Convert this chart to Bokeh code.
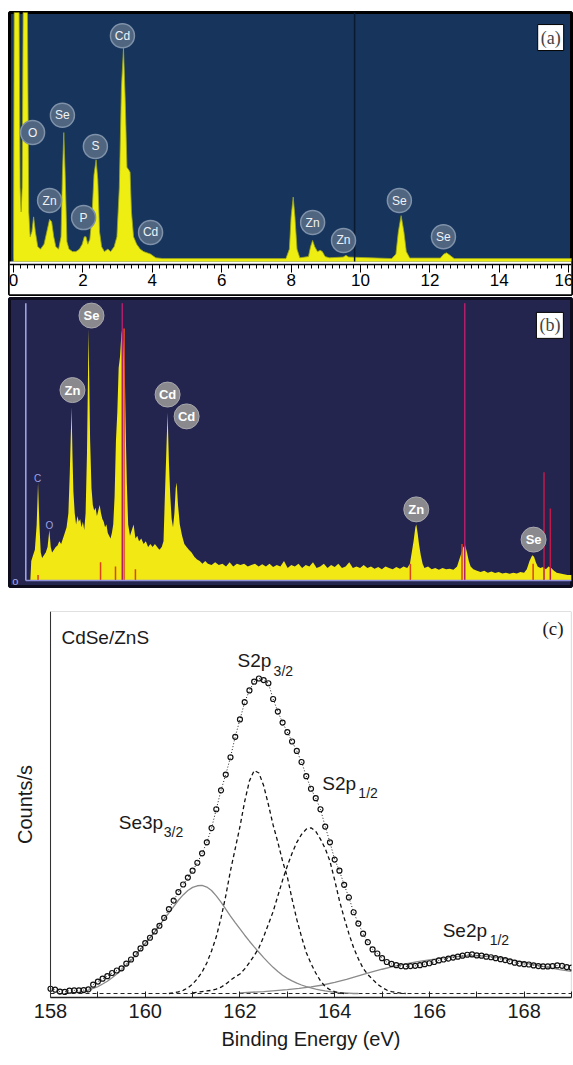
from bokeh.plotting import figure
from bokeh.layouts import column
from bokeh.models import Range1d, FixedTicker, SingleIntervalTicker, BoxAnnotation, Label, Title
from bokeh.embed import file_html
from bokeh.resources import INLINE
from bokeh.core.properties import value

# ---------------- data: panel (a) EDS spectrum ----------------
a_energy_kev = [0.00, 0.02, 0.16, 0.19, 0.22, 0.25, 0.28, 0.40, 0.44, 0.48, 0.53, 0.58, 0.63, 0.70, 0.78,
                0.88, 0.96, 1.04, 1.10, 1.16, 1.22, 1.30, 1.37, 1.41, 1.45, 1.49, 1.54, 1.60, 1.70, 1.80,
                1.90, 1.98, 2.04, 2.09, 2.14, 2.20, 2.26, 2.32, 2.38, 2.43, 2.48, 2.54, 2.62, 2.72, 2.80,
                2.90, 2.98, 3.05, 3.11, 3.17, 3.22, 3.27, 3.32, 3.36, 3.40, 3.46, 3.55, 3.65, 3.75, 3.85,
                3.95, 4.10, 4.30, 7.85, 7.95, 8.00, 8.06, 8.11, 8.17, 8.25, 8.50, 8.56, 8.62, 8.68, 8.76,
                8.84, 8.90, 8.98, 9.10, 9.50, 9.58, 9.66, 10.90, 11.02, 11.09, 11.17, 11.25, 11.32, 11.42,
                12.30, 12.40, 12.48, 12.58, 12.70, 16.11]
a_counts = [0.012, 1.05, 1.05, 0.30, 0.20, 0.30, 1.05, 1.05, 0.20, 0.10, 0.12, 0.18, 0.12, 0.06, 0.05,
            0.07, 0.12, 0.17, 0.16, 0.10, 0.06, 0.05, 0.10, 0.35, 0.52, 0.35, 0.08, 0.05, 0.04, 0.04,
            0.05, 0.07, 0.10, 0.10, 0.07, 0.09, 0.18, 0.35, 0.41, 0.33, 0.12, 0.06, 0.04, 0.05, 0.04,
            0.06, 0.10, 0.30, 0.70, 0.86, 0.65, 0.38, 0.37, 0.36, 0.20, 0.10, 0.07, 0.05, 0.04, 0.035,
            0.03, 0.015, 0.012, 0.012, 0.05, 0.18, 0.26, 0.18, 0.05, 0.015, 0.02, 0.06, 0.085, 0.06, 0.04,
            0.045, 0.04, 0.02, 0.015, 0.018, 0.025, 0.018, 0.012, 0.03, 0.12, 0.185, 0.12, 0.04, 0.014,
            0.014, 0.03, 0.035, 0.025, 0.012, 0.012]
a_tags = ["O", "Se", "Zn", "P", "S", "Cd", "Cd", "Zn", "Zn", "Se", "Se"]
a_tag_kev = [0.55, 1.41, 1.04, 2.02, 2.36, 3.14, 3.95, 8.62, 9.51, 11.12, 12.39]
a_tag_level = [0.52, 0.59, 0.246, 0.177, 0.464, 0.91, 0.117, 0.157, 0.085, 0.246, 0.10]
a_cursor_kev = 9.83

# ---------------- data: panel (b) EDS spectrum ----------------
b_energy_kev = [0.10, 0.12, 0.16, 0.20, 0.24, 0.27, 0.30, 0.33, 0.36, 0.40, 0.44, 0.48, 0.52, 0.55, 0.58,
                0.62, 0.66, 0.70, 0.74, 0.78, 0.82, 0.86, 0.90, 0.94, 0.97, 0.99, 1.01, 1.03, 1.05, 1.08,
                1.11, 1.14, 1.17, 1.20, 1.23, 1.26, 1.29, 1.32, 1.35, 1.37, 1.385, 1.40, 1.42, 1.45, 1.48,
                1.51, 1.54, 1.57, 1.60, 1.63, 1.66, 1.69, 1.72, 1.75, 1.78, 1.81, 1.84, 1.87, 1.90, 1.93,
                1.96, 1.99, 2.02, 2.05, 2.08, 2.11, 2.13, 2.15, 2.17, 2.19, 2.21, 2.23, 2.26, 2.30, 2.34,
                2.38, 2.42, 2.46, 2.50, 2.55, 2.60, 2.65, 2.70, 2.75, 2.80, 2.85, 2.90, 2.95, 3.00, 3.04,
                3.07, 3.10, 3.13, 3.16, 3.19, 3.22, 3.25, 3.28, 3.31, 3.33, 3.36, 3.40, 3.45, 3.50, 3.55,
                3.60, 3.66, 3.72, 3.78, 3.84, 3.90, 3.96, 4.02, 4.10, 4.18, 4.26, 4.34, 4.42, 4.50, 4.58,
                4.66, 4.74, 4.82, 4.90, 4.98, 5.06, 5.14, 5.22, 5.30, 5.38, 5.46, 5.54, 5.62, 5.70, 5.78,
                5.86, 5.94, 6.02, 6.10, 6.18, 6.26, 6.34, 6.42, 6.50, 6.58, 6.66, 6.74, 6.82, 6.90, 6.98,
                7.06, 7.14, 7.22, 7.30, 7.38, 7.46, 7.54, 7.62, 7.70, 7.78, 7.86, 7.94, 8.02, 8.10, 8.18,
                8.26, 8.34, 8.42, 8.48, 8.52, 8.56, 8.60, 8.62, 8.65, 8.68, 8.72, 8.76, 8.80, 8.88, 8.96,
                9.04, 9.12, 9.20, 9.28, 9.36, 9.44, 9.52, 9.58, 9.62, 9.66, 9.70, 9.74, 9.78, 9.82, 9.88,
                9.96, 10.04, 10.12, 10.20, 10.28, 10.36, 10.44, 10.52, 10.60, 10.68, 10.76, 10.84, 10.92, 11.00, 11.06,
                11.12, 11.18, 11.22, 11.26, 11.30, 11.36, 11.42, 11.48, 11.54, 11.60, 11.66, 11.72, 11.80, 11.88, 11.96,
                12.05]
b_counts = [0.0, 0.07, 0.09, 0.11, 0.20, 0.35, 0.20, 0.10, 0.08, 0.09, 0.10, 0.12, 0.18, 0.12, 0.10,
            0.11, 0.12, 0.125, 0.14, 0.13, 0.15, 0.17, 0.19, 0.24, 0.38, 0.50, 0.62, 0.45, 0.32, 0.24,
            0.20, 0.23, 0.21, 0.22, 0.19, 0.21, 0.18, 0.24, 0.45, 0.70, 0.90, 0.72, 0.50, 0.33, 0.27,
            0.25, 0.26, 0.23, 0.25, 0.27, 0.24, 0.22, 0.21, 0.19, 0.20, 0.17, 0.16, 0.15, 0.17, 0.20,
            0.30, 0.50, 0.60, 0.76, 0.80, 0.88, 0.90, 0.85, 0.78, 0.70, 0.50, 0.35, 0.20, 0.16, 0.18,
            0.20, 0.15, 0.16, 0.14, 0.15, 0.13, 0.14, 0.12, 0.13, 0.12, 0.13, 0.12, 0.11, 0.12, 0.14,
            0.30, 0.45, 0.60, 0.42, 0.30, 0.22, 0.19, 0.24, 0.33, 0.35, 0.27, 0.20, 0.16, 0.13, 0.12,
            0.11, 0.10, 0.085, 0.075, 0.07, 0.06, 0.07, 0.06, 0.055, 0.065, 0.055, 0.06, 0.05, 0.065, 0.05,
            0.06, 0.055, 0.06, 0.05, 0.055, 0.06, 0.05, 0.058, 0.05, 0.06, 0.048, 0.055, 0.05, 0.07, 0.045,
            0.055, 0.05, 0.06, 0.045, 0.055, 0.05, 0.065, 0.045, 0.05, 0.06, 0.045, 0.055, 0.048, 0.06, 0.045,
            0.05, 0.065, 0.045, 0.05, 0.045, 0.055, 0.045, 0.05, 0.042, 0.048, 0.04, 0.05, 0.045, 0.04, 0.048,
            0.042, 0.05, 0.045, 0.06, 0.10, 0.14, 0.19, 0.20, 0.17, 0.13, 0.09, 0.06, 0.045, 0.05, 0.04,
            0.045, 0.038, 0.045, 0.04, 0.042, 0.038, 0.05, 0.08, 0.10, 0.12, 0.125, 0.10, 0.07, 0.05, 0.04,
            0.035, 0.03, 0.035, 0.028, 0.032, 0.027, 0.03, 0.025, 0.028, 0.024, 0.028, 0.025, 0.03, 0.028, 0.04,
            0.07, 0.09, 0.085, 0.065, 0.05, 0.045, 0.048, 0.04, 0.05, 0.045, 0.035, 0.028, 0.025, 0.022, 0.02,
            0.02]
b_marker_kev = [2.13, 9.69, 11.44, 11.58, 2.17, 0.27, 1.65, 1.98, 2.42, 8.49, 9.63, 11.20]
b_marker_level = [0.99, 0.99, 0.387, 0.257, 0.90, 0.02, 0.065, 0.05, 0.04, 0.06, 0.13, 0.06]
b_marker_color = ["#b0206a", "#b0206a", "#c01a4a", "#c01a4a", "#e0501a", "#e0401a", "#e0401a", "#e0401a",
                  "#e0401a", "#e0401a", "#e0401a", "#e0401a"]
b_tags = ["Se", "Zn", "Cd", "Cd", "Zn", "Se"]
b_tag_kev = [1.45, 1.03, 3.13, 3.55, 8.62, 11.21]
b_tag_level = [0.946, 0.68, 0.664, 0.586, 0.254, 0.146]
b_small_tags = ["C", "O"]
b_small_kev = [0.26, 0.52]
b_small_level = [0.364, 0.196]

# ---------------- data: panel (c) XPS ----------------
c_energy_ev = [158.0, 158.1, 158.2, 158.3, 158.4, 158.5, 158.6, 158.7, 158.8, 158.9,
               159.0, 159.1, 159.2, 159.3, 159.4, 159.5, 159.6, 159.7, 159.8, 159.9,
               160.0, 160.1, 160.2, 160.3, 160.4, 160.5, 160.6, 160.7, 160.8, 160.9,
               161.0, 161.1, 161.2, 161.3, 161.4, 161.5, 161.6, 161.7, 161.8, 161.9,
               162.0, 162.1, 162.2, 162.3, 162.4, 162.5, 162.6, 162.7, 162.8, 162.9,
               163.0, 163.1, 163.2, 163.3, 163.4, 163.5, 163.6, 163.7, 163.8, 163.9,
               164.0, 164.1, 164.2, 164.3, 164.4, 164.5, 164.6, 164.7, 164.8, 164.9,
               165.0, 165.1, 165.2, 165.3, 165.4, 165.5, 165.6, 165.7, 165.8, 165.9,
               166.0, 166.1, 166.2, 166.3, 166.4, 166.5, 166.6, 166.7, 166.8, 166.9,
               167.0, 167.1, 167.2, 167.3, 167.4, 167.5, 167.6, 167.7, 167.8, 167.9,
               168.0, 168.1, 168.2, 168.3, 168.4, 168.5, 168.6, 168.7, 168.8, 168.9,
               169.0]
c_counts = [0.015, 0.012, 0.006, 0.005, 0.009, 0.010, 0.010, 0.011, 0.013, 0.028,
            0.038, 0.047, 0.055, 0.065, 0.073, 0.080, 0.095, 0.108, 0.125, 0.143,
            0.160, 0.177, 0.197, 0.215, 0.240, 0.268, 0.295, 0.322, 0.346, 0.368,
            0.390, 0.415, 0.445, 0.480, 0.525, 0.585, 0.645, 0.695, 0.750, 0.815,
            0.870, 0.925, 0.962, 0.990, 1.000, 0.995, 0.985, 0.935, 0.895, 0.860,
            0.830, 0.800, 0.770, 0.735, 0.690, 0.650, 0.620, 0.585, 0.530, 0.480,
            0.425, 0.390, 0.345, 0.305, 0.258, 0.222, 0.190, 0.163, 0.140, 0.127,
            0.112, 0.100, 0.094, 0.090, 0.087, 0.086, 0.087, 0.088, 0.090, 0.093,
            0.096, 0.100, 0.105, 0.108, 0.111, 0.114, 0.117, 0.120, 0.123, 0.124,
            0.121, 0.120, 0.117, 0.115, 0.112, 0.109, 0.106, 0.102, 0.098, 0.095,
            0.093, 0.092, 0.089, 0.087, 0.086, 0.086, 0.087, 0.089, 0.088, 0.084,
            0.082]

s32_energy_ev = [160.5, 160.6, 160.7, 160.8, 160.9, 161.0, 161.1, 161.2, 161.3, 161.4,
                 161.5, 161.6, 161.7, 161.8, 161.9, 162.0, 162.1, 162.2, 162.3, 162.4,
                 162.5, 162.6, 162.7, 162.8, 162.9, 163.0, 163.1, 163.2, 163.3, 163.4,
                 163.5, 163.6, 163.7, 163.8, 163.9, 164.0, 164.1, 164.2]
s32_counts = [0.0, 0.002, 0.005, 0.010, 0.018, 0.030, 0.047, 0.068, 0.097, 0.135,
              0.180, 0.240, 0.310, 0.390, 0.460, 0.530, 0.610, 0.675, 0.708, 0.700,
              0.660, 0.600, 0.535, 0.480, 0.420, 0.370, 0.300, 0.235, 0.180, 0.130,
              0.095, 0.065, 0.040, 0.022, 0.012, 0.006, 0.002, 0.0]

s12_energy_ev = [161.0, 161.1, 161.2, 161.3, 161.4, 161.5, 161.6, 161.7, 161.8, 161.9,
                 162.0, 162.1, 162.2, 162.3, 162.4, 162.5, 162.6, 162.7, 162.8, 162.9,
                 163.0, 163.1, 163.2, 163.3, 163.4, 163.5, 163.6, 163.7, 163.8, 163.9,
                 164.0, 164.1, 164.2, 164.3, 164.4, 164.5, 164.6, 164.7, 164.8, 164.9,
                 165.0, 165.1, 165.2, 165.3, 165.4, 165.5]
s12_counts = [0.002, 0.004, 0.006, 0.008, 0.010, 0.014, 0.020, 0.030, 0.042, 0.053,
              0.062, 0.078, 0.098, 0.120, 0.145, 0.180, 0.220, 0.260, 0.310, 0.360,
              0.405, 0.445, 0.480, 0.505, 0.522, 0.526, 0.515, 0.490, 0.460, 0.420,
              0.360, 0.295, 0.240, 0.190, 0.145, 0.110, 0.080, 0.060, 0.045, 0.030,
              0.019, 0.011, 0.006, 0.003, 0.001, 0.0]

se3p_energy_ev = [158.5, 158.6, 158.7, 158.8, 158.9,
                  159.0, 159.1, 159.2, 159.3, 159.4, 159.5, 159.6, 159.7, 159.8, 159.9,
                  160.0, 160.1, 160.2, 160.3, 160.4, 160.5, 160.6, 160.7, 160.8, 160.9,
                  161.0, 161.1, 161.2, 161.3, 161.4, 161.5, 161.6, 161.7, 161.8, 161.9,
                  162.0, 162.1, 162.2, 162.3, 162.4, 162.5, 162.6, 162.7, 162.8, 162.9,
                  163.0, 163.1, 163.2, 163.3, 163.4, 163.5, 163.6, 163.7, 163.8, 163.9,
                  164.0, 164.1, 164.2, 164.3, 164.4, 164.5]
se3p_counts = [0.002, 0.004, 0.007, 0.011, 0.016,
               0.022, 0.030, 0.039, 0.050, 0.062, 0.075, 0.090, 0.105, 0.122, 0.140,
               0.158, 0.177, 0.196, 0.216, 0.236, 0.256, 0.276, 0.296, 0.313, 0.327,
               0.337, 0.342, 0.343, 0.338, 0.327, 0.310, 0.290, 0.268, 0.246, 0.225,
               0.205, 0.185, 0.166, 0.148, 0.131, 0.114, 0.098, 0.083, 0.070, 0.058,
               0.048, 0.040, 0.033, 0.027, 0.022, 0.018, 0.014, 0.011, 0.008, 0.006,
               0.004, 0.003, 0.002, 0.001, 0.0, 0.0]

se2p_energy_ev = [162.0, 162.25, 162.5, 162.75, 163.0, 163.25, 163.5, 163.75, 164.0, 164.25,
                  164.5, 164.75, 165.0, 165.25, 165.5, 165.75, 166.0, 166.25, 166.5, 166.75,
                  167.0, 167.25, 167.5, 167.75, 168.0, 168.25, 168.5, 168.75, 169.0]
se2p_counts = [0.002, 0.004, 0.006, 0.009, 0.012, 0.016, 0.021, 0.027, 0.035, 0.045,
               0.056, 0.067, 0.077, 0.086, 0.094, 0.101, 0.107, 0.112, 0.116, 0.119,
               0.120, 0.118, 0.113, 0.106, 0.098, 0.090, 0.083, 0.076, 0.070]

c_major_ticks = [158, 160, 162, 164, 166, 168]
c_minor_ticks = [159, 161, 163, 165, 167, 169]
c_axis_start, c_axis_end = 158.0, 169.0

# ---------------- styles ----------------
NAVY_A = "#16345c"
NAVY_B = "#24254f"
YELLOW_A = "#eeee12"
YELLOW_B = "#f2e814"
SANS = "Liberation Sans"
SERIF = "Liberation Serif"
LEFT, RIGHT = 9, 2

# ================= panel (a) =================
pa = figure(width=573, height=297, x_range=Range1d(-0.115, 16.08), y_range=Range1d(-0.133, 1.004),
            output_backend="svg", toolbar_location=None, y_axis_location=None,
            min_border_left=LEFT, min_border_right=RIGHT, min_border_top=12, min_border_bottom=3,
            background_fill_color=NAVY_A, border_fill_color="white")
pa.grid.visible = False
pa.outline_line_color = "black"
pa.outline_line_width = 3
pa.add_layout(BoxAnnotation(top=0, fill_color="white", fill_alpha=1.0, line_color=None, level="underlay"))
pa.varea(x=a_energy_kev, y1=0, y2=a_counts, fill_color=YELLOW_A)
pa.line(x=a_energy_kev, y=a_counts, line_color="#9aa51a", line_width=0.8)
pa.segment(x0=[a_cursor_kev], y0=[0], x1=[a_cursor_kev], y1=[1.004], line_color="#0a1a30", line_width=1.5)
pa.scatter(x=a_tag_kev, y=a_tag_level, size=24, fill_color="#50657f", line_color="#7f92aa", line_width=1.5)
pa.text(x=a_tag_kev, y=a_tag_level, text=a_tags, text_align="center", text_baseline="middle",
        text_font=value(SANS), text_font_size="12px", text_color="#eef2f7")
ax = pa.xaxis[0]
ax.fixed_location = -0.012
ax.ticker = SingleIntervalTicker(interval=2, num_minor_ticks=10)
ax.major_tick_in = 0
ax.major_tick_out = 8
ax.minor_tick_in = 0
ax.minor_tick_out = 4
ax.axis_line_width = 1.5
ax.axis_line_color = "black"
ax.major_tick_line_color = "black"
ax.minor_tick_line_color = "black"
ax.major_label_standoff = 2
ax.major_label_text_font = SANS
ax.major_label_text_font_size = "17px"
ax.major_label_text_color = "black"
pa.add_layout(Label(x=15.48, y=0.903, text="(a)", text_font=SERIF, text_font_size="18px",
                    text_align="center", text_baseline="middle", background_fill_color="white",
                    border_line_color="black", border_line_width=1, padding=3))

# ================= panel (b) =================
pb = figure(width=573, height=299, x_range=Range1d(-0.36, 12.047), y_range=Range1d(-0.0214, 1.007),
            output_backend="svg", toolbar_location=None, x_axis_location=None, y_axis_location=None,
            min_border_left=LEFT, min_border_right=RIGHT, min_border_top=1, min_border_bottom=10,
            background_fill_color=NAVY_B, border_fill_color="white")
pb.grid.visible = False
pb.outline_line_color = "#0c0c1c"
pb.outline_line_width = 3
pb.varea(x=b_energy_kev, y1=0, y2=b_counts, fill_color=YELLOW_B)
pb.segment(x0=b_marker_kev, y0=[0] * len(b_marker_kev), x1=b_marker_kev, y1=b_marker_level,
           line_color=b_marker_color, line_width=1.5)
pb.segment(x0=[0], y0=[0], x1=[0], y1=[0.99], line_color="#a6a8e8", line_width=1.5)
pb.segment(x0=[0], y0=[0], x1=[12.047], y1=[0], line_color="#8f92d8", line_width=1.5)
pb.text(x=b_small_kev, y=b_small_level, text=b_small_tags, text_align="center", text_baseline="middle",
        text_font=value(SANS), text_font_size="10px", text_color="#9aa2e6")
pb.text(x=[-0.23], y=[0.0], text=["o"], text_align="center", text_baseline="middle",
        text_font=value(SANS), text_font_size="11px", text_color="#a6a8e8")
pb.scatter(x=b_tag_kev, y=b_tag_level, size=25, fill_color="#8a8a8e", line_color="#a8a8ae", line_width=1)
pb.text(x=b_tag_kev, y=b_tag_level, text=b_tags, text_align="center", text_baseline="middle",
        text_font=value(SANS), text_font_size="13px", text_font_style="bold", text_color="white")
pb.add_layout(Label(x=11.57, y=0.911, text="(b)", text_font=SERIF, text_font_size="18px",
                    text_align="center", text_baseline="middle", background_fill_color="white",
                    border_line_color="black", border_line_width=1, padding=3))

# ================= panel (c) =================
# frame starts at the same left border as (a)/(b); the data box begins at 158 eV inside it
pc = figure(width=573, height=469, x_range=Range1d(157.134, 169.0), y_range=Range1d(-0.0127, 1.2127),
            output_backend="svg", toolbar_location=None,
            min_border_left=LEFT, min_border_right=RIGHT, min_border_top=15, min_border_bottom=68,
            background_fill_color="white", border_fill_color="white")
pc.grid.visible = False
pc.outline_line_color = None
pc.add_layout(BoxAnnotation(left=c_axis_start, fill_alpha=0, line_color="#333333", line_width=1.2))
pc.segment(x0=[c_axis_start], y0=[0], x1=[c_axis_end], y1=[0], line_color="#222222", line_dash="4 3", line_width=1.2)
pc.line(x=se3p_energy_ev, y=se3p_counts, line_color="#8a8a8a", line_width=1.3)
pc.line(x=se2p_energy_ev, y=se2p_counts, line_color="#8a8a8a", line_width=1.3)
pc.line(x=s32_energy_ev, y=s32_counts, line_color="#111111", line_dash="4 3", line_width=1.3)
pc.line(x=s12_energy_ev, y=s12_counts, line_color="#111111", line_dash="4 3", line_width=1.3)
pc.line(x=c_energy_ev, y=c_counts, line_color="#222222", line_dash="1 2", line_width=1)
pc.scatter(x=c_energy_ev, y=c_counts, size=5, fill_alpha=0, line_color="#111111", line_width=1.2)

xa = pc.xaxis[0]
xa.bounds = (c_axis_start, c_axis_end)
xa.ticker = FixedTicker(ticks=c_major_ticks, minor_ticks=c_minor_ticks)
xa.major_tick_in = 6
xa.major_tick_out = 0
xa.minor_tick_in = 6
xa.minor_tick_out = 0
xa.axis_line_color = "#222222"
xa.axis_line_width = 1.5
xa.major_tick_line_color = "#222222"
xa.minor_tick_line_color = "#222222"
xa.major_label_standoff = 6
xa.major_label_text_font = SANS
xa.major_label_text_font_size = "20px"
xa.major_label_text_color = "#1a1a1a"

# x-axis title centred under the 158-169 eV box (not under the whole frame)
pc.add_layout(Title(text="Binding Energy (eV)", align="left", offset=212, standoff=10,
                    text_font=SANS, text_font_size="20px", text_font_style="normal",
                    text_color="#1a1a1a"), "below")

ya = pc.yaxis[0]
ya.fixed_location = c_axis_start
ya.ticker = FixedTicker(ticks=[])
ya.major_tick_in = 0
ya.major_tick_out = 0
ya.minor_tick_in = 0
ya.minor_tick_out = 0
ya.major_label_standoff = 0
ya.axis_line_color = "#333333"
ya.axis_label = "Counts/s"
ya.axis_label_text_font = SANS
ya.axis_label_text_font_size = "20px"
ya.axis_label_text_font_style = "normal"
ya.axis_label_text_color = "#1a1a1a"
ya.axis_label_standoff = 15

def label_with_sub(main, sub, x, y, sub_dx):
    pc.text(x=[x], y=[y], text=[main], text_align="left", text_baseline="middle",
            text_font=value(SANS), text_font_size="19px", text_color="#1a1a1a")
    pc.text(x=[x], y=[y], text=[sub], text_align="left", text_baseline="middle",
            x_offset=sub_dx, y_offset=10,
            text_font=value(SANS), text_font_size="14px", text_color="#1a1a1a")

pc.text(x=[158.23], y=[1.13], text=["CdSe/ZnS"], text_align="left", text_baseline="middle",
        text_font=value(SANS), text_font_size="19px", text_color="#1a1a1a")
label_with_sub("S2p", "3/2", 161.95, 1.057, 36)
label_with_sub("S2p", "1/2", 163.74, 0.667, 36)
label_with_sub("Se3p", "3/2", 159.44, 0.544, 45)
label_with_sub("Se2p", "1/2", 166.28, 0.20, 47)
pc.text(x=[168.61], y=[1.159], text=["(c)"], text_align="center", text_baseline="middle",
        text_font=value(SERIF), text_font_size="19px", text_color="#1a1a1a")

layout = column(pa, pb, pc, spacing=0)
open("out.html", "w").write(file_html(layout, INLINE))
